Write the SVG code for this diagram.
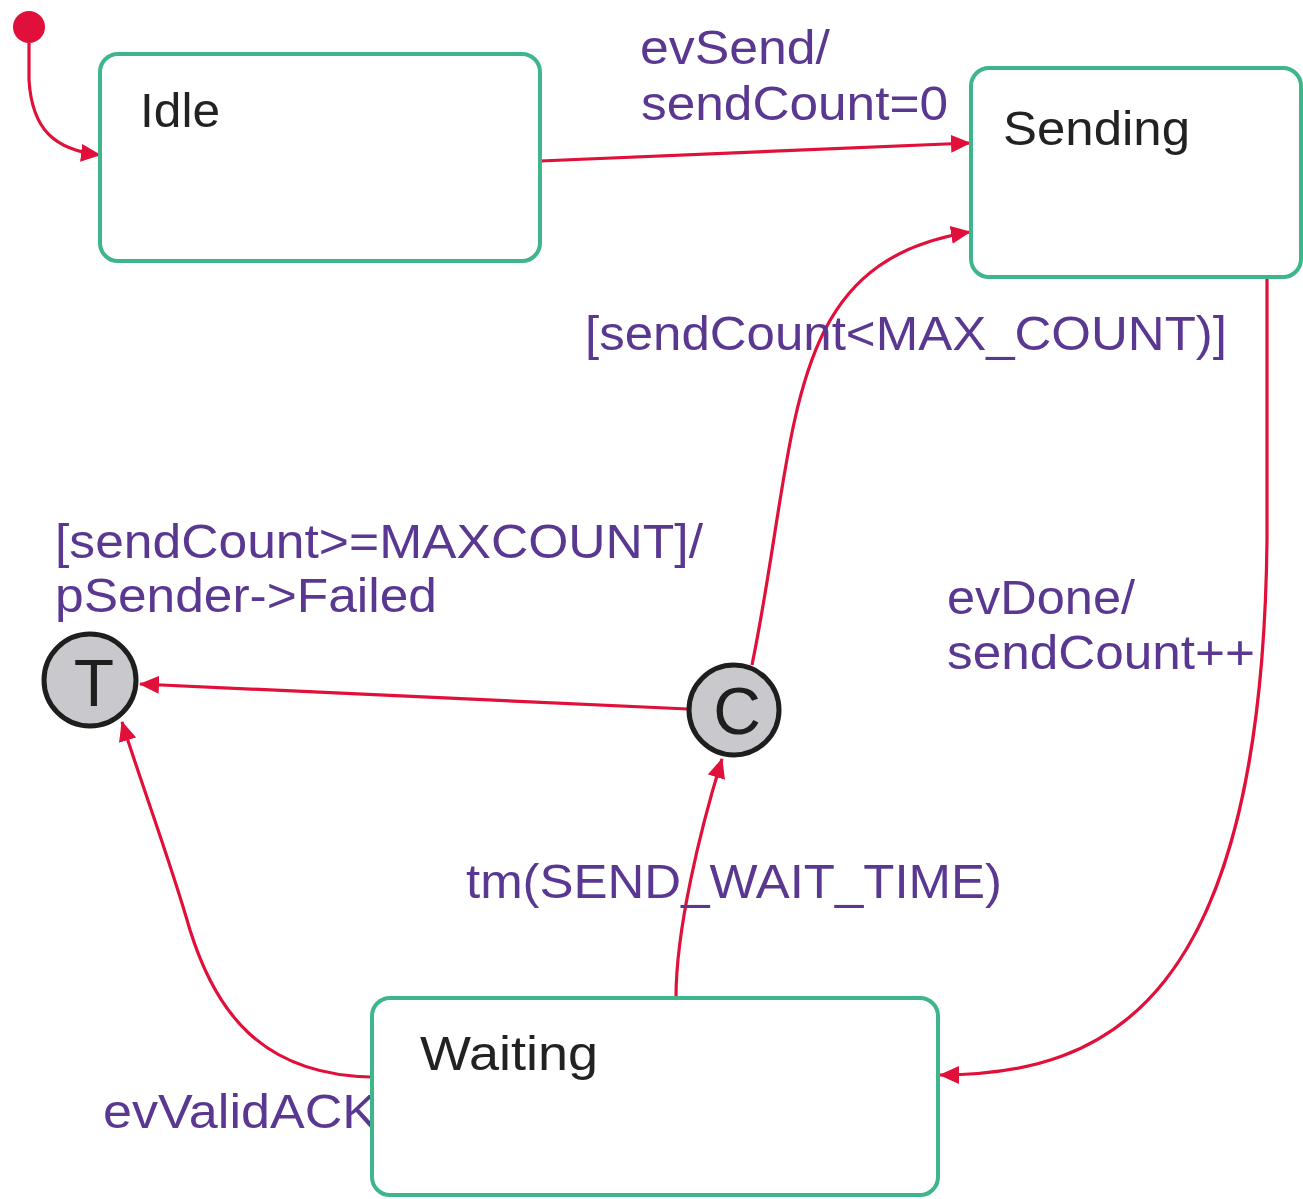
<svg xmlns="http://www.w3.org/2000/svg" width="1303" height="1199" viewBox="0 0 1303 1199">
  <defs>
    <marker id="arrow" markerUnits="userSpaceOnUse" markerWidth="20" markerHeight="18" refX="19" refY="9" orient="auto">
      <path d="M0,0 L20,9 L0,18 Z" fill="#e0103a"/>
    </marker>
    <style>
      .state { fill: #ffffff; stroke: #3fb68a; stroke-width: 4; }
      .pseudo { fill: #c9c9cd; stroke: #1e1e1e; stroke-width: 5; }
      .edge { fill: none; stroke: #e0103a; stroke-width: 3.2; marker-end: url(#arrow); }
      .name { font-family: "Liberation Sans", Arial, sans-serif; font-size: 48px; fill: #222222; }
      .label { font-family: "Liberation Sans", Arial, sans-serif; font-size: 48px; fill: #5a3892; }
      .sym { font-family: "Liberation Sans", Arial, sans-serif; font-size: 66px; fill: #1e1e1e; text-anchor: middle; }
    </style>
  </defs>

  <rect width="1303" height="1199" fill="#ffffff"/>

  <!-- transitions -->
  <g id="connectors">
    <path class="edge" d="M29,43 L29,80 C32,130 55,150 100,155"/>
    <path class="edge" d="M540,161 L970,143"/>
    <path class="edge" d="M1267,278 L1267,540 C1262,1000 1110,1075 940,1075"/>
    <path class="edge" d="M676,997 C676,930 700,830 722,759"/>
    <path class="edge" d="M752,665 C800,430 780,262 970,232"/>
    <path class="edge" d="M688,709 L140,684"/>
    <path class="edge" d="M372,1077 C260,1075 215,1010 190,930 C170,860 140,780 122,722"/>
  </g>

  <!-- transition labels -->
  <g id="labels">
    <text class="label" x="640" y="64" textLength="190" lengthAdjust="spacingAndGlyphs">evSend/</text>
    <text class="label" x="641" y="120" textLength="307" lengthAdjust="spacingAndGlyphs">sendCount=0</text>
    <text class="label" x="585" y="350" textLength="642" lengthAdjust="spacingAndGlyphs">[sendCount&lt;MAX_COUNT)]</text>
    <text class="label" x="55" y="558" textLength="648" lengthAdjust="spacingAndGlyphs">[sendCount&gt;=MAXCOUNT]/</text>
    <text class="label" x="55" y="612" textLength="382" lengthAdjust="spacingAndGlyphs">pSender-&gt;Failed</text>
    <text class="label" x="947" y="614" textLength="188" lengthAdjust="spacingAndGlyphs">evDone/</text>
    <text class="label" x="947" y="669" textLength="308" lengthAdjust="spacingAndGlyphs">sendCount++</text>
    <text class="label" x="466" y="898" textLength="536" lengthAdjust="spacingAndGlyphs">tm(SEND_WAIT_TIME)</text>
    <text class="label" x="103" y="1128" textLength="274" lengthAdjust="spacingAndGlyphs">evValidACK</text>
  </g>

  <!-- initial pseudostate -->
  <g id="initial">
    <circle cx="29" cy="27" r="16" fill="#e0103a"/>
  </g>

  <g id="idle">
    <rect class="state" x="100" y="54" width="440" height="207" rx="18"/>
    <text class="name" x="140" y="127" textLength="80" lengthAdjust="spacingAndGlyphs">Idle</text>
  </g>

  <g id="sending">
    <rect class="state" x="971" y="68" width="330" height="209" rx="18"/>
    <text class="name" x="1003" y="145" textLength="187" lengthAdjust="spacingAndGlyphs">Sending</text>
  </g>

  <g id="waiting">
    <rect class="state" x="372" y="998" width="566" height="197" rx="18"/>
    <text class="name" x="420" y="1070" textLength="178" lengthAdjust="spacingAndGlyphs">Waiting</text>
  </g>

  <g id="terminate">
    <circle class="pseudo" cx="90" cy="680" r="46"/>
    <text class="sym" x="94" y="706">T</text>
  </g>

  <g id="condition">
    <circle class="pseudo" cx="734" cy="710" r="45"/>
    <text class="sym" x="737" y="734">C</text>
  </g>
</svg>
